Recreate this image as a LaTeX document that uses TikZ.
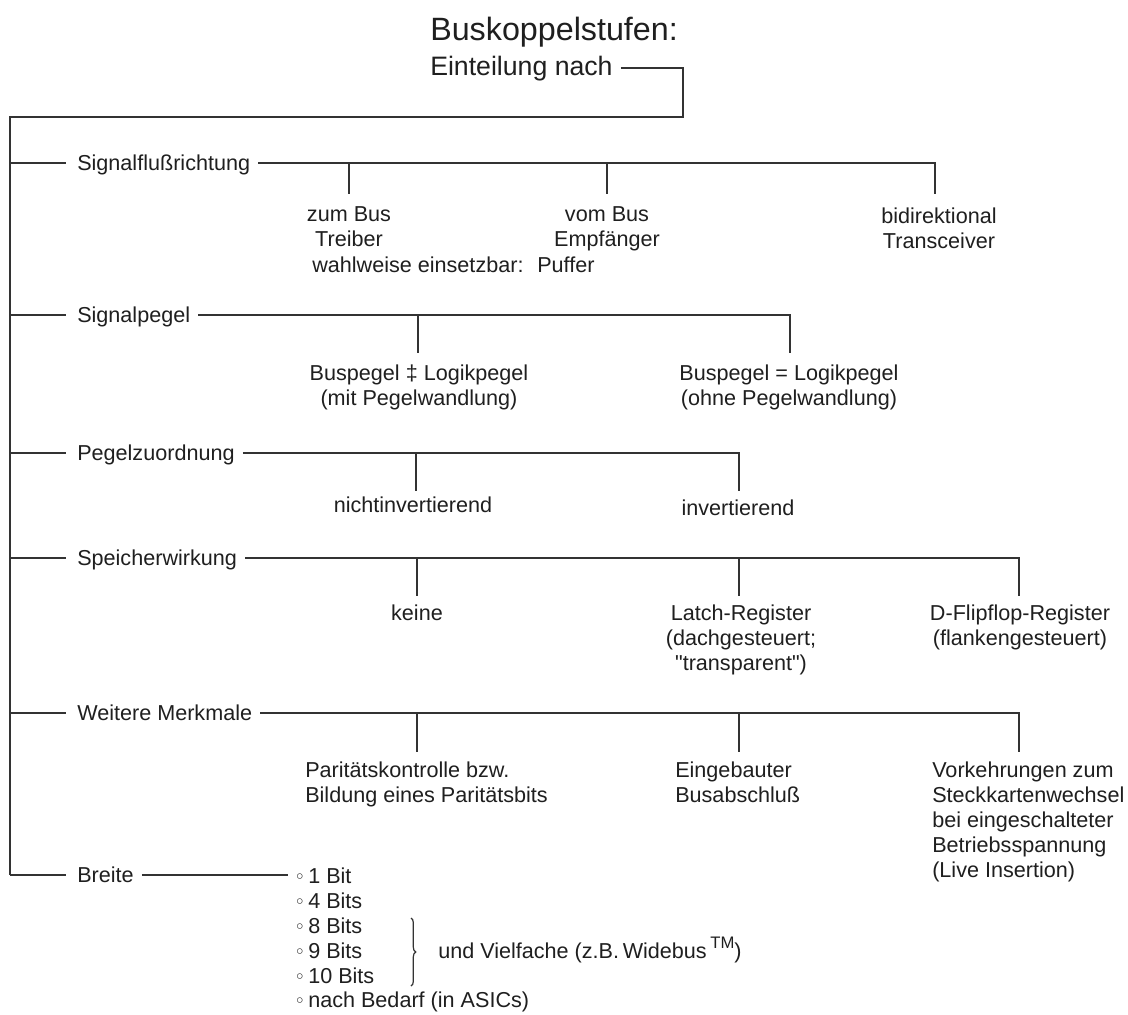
\documentclass[tikz,border=0pt]{standalone}
\usepackage{fontspec}
\setmainfont{Liberation Sans}[Ligatures=TeXOff]
\newfontfamily\symbolfont{DejaVu Sans}
\usetikzlibrary{decorations.pathreplacing}

\definecolor{ink}{gray}{0.12}
\definecolor{wirec}{gray}{0.2}
\newcommand\bodyfont{\fontsize{16.2}{18.75}\selectfont}
\newcommand\subfont{\fontsize{20}{24}\selectfont}
\newcommand\titlefont{\fontsize{24.2}{29}\selectfont}
\newcommand\bull{\makebox[10.5pt][l]{\symbolfont\fontsize{14}{14}\selectfont ◦}}

\begin{document}
\begin{tikzpicture}[x=0.75pt,y=-0.75pt,
  wire/.style={draw=wirec,line width=1.1pt},
  head/.style={font=\bodyfont,text=ink,inner sep=0pt,anchor=base west},
  leaf/.style={font=\bodyfont,text=ink,inner sep=0pt,anchor=base,align=center},
  leafl/.style={font=\bodyfont,text=ink,inner sep=0pt,anchor=base west,align=left}]
% multi-line nodes: the base anchor sits on the baseline of the last line,
% lines are 25 units apart

\useasboundingbox[fill=white] (0,0) rectangle (1128,1014);

% heading
\node[font=\titlefont,text=ink,inner sep=0pt,anchor=base west] (ttl) at (430,40) {Buskoppelstufen:};
\node[font=\subfont,text=ink,inner sep=0pt,anchor=base west] (ein) at (430,75) {Einteilung nach};

% trunk
\coordinate (t1) at (683,68);
\coordinate (t2) at (683,117);
\coordinate (t0) at (10,117);
\coordinate (r6) at (10,875);
\draw[wire] ([xshift=6pt]ein.east |- t1) -- (t1) -- (t2) -- (t0) -- (r6);

% row junctions on the trunk
\coordinate (r1) at (10,163);
\coordinate (r2) at (10,315);
\coordinate (r3) at (10,453);
\coordinate (r4) at (10,558);
\coordinate (r5) at (10,713);

% category labels
\node[head] (c1) at (77,170) {Signalflußrichtung};
\node[head] (c2) at (77,322) {Signalpegel};
\node[head] (c3) at (77,460) {Pegelzuordnung};
\node[head] (c4) at (77,565) {Speicherwirkung};
\node[head] (c5) at (77,720) {Weitere Merkmale};
\node[head] (c6) at (77,882) {Breite};

\foreach \i in {1,...,6}{
  \draw[wire] (r\i) -- ([xshift=-8.25pt]c\i.west |- r\i);
}

% --- Signalflussrichtung
\coordinate (b11) at (349,194);
\coordinate (b12) at (607,194);
\coordinate (b13) at (935,194);
\draw[wire] ([xshift=6pt]c1.east |- r1) -- (b13 |- r1) -- (b13);
\draw[wire] (b11 |- r1) -- (b11);
\draw[wire] (b12 |- r1) -- (b12);
\node[leaf] (k11) at (349,246) {zum Bus\\Treiber};
\node[leaf] (k12) at (607,246) {vom Bus\\Empfänger};
\node[leaf] (k13) at (939,248) {bidirektional\\Transceiver};
\node[head] (k1w) at (312,272) {wahlweise einsetzbar:};
\node[head] (k1p) at (537,272) {Puffer};

% --- Signalpegel
\coordinate (b21) at (418,353);
\coordinate (b22) at (790,353);
\draw[wire] ([xshift=6pt]c2.east |- r2) -- (b22 |- r2) -- (b22);
\draw[wire] (b21 |- r2) -- (b21);
\node[leaf] (k21) at (419,405) {Buspegel ‡ Logikpegel\\(mit Pegelwandlung)};
\node[leaf] (k22) at (789,405) {Buspegel = Logikpegel\\(ohne Pegelwandlung)};

% --- Pegelzuordnung
\coordinate (b31) at (416,491);
\coordinate (b32) at (739,491);
\draw[wire] ([xshift=6pt]c3.east |- r3) -- (b32 |- r3) -- (b32);
\draw[wire] (b31 |- r3) -- (b31);
\node[leaf] (k31) at (413,512) {nichtinvertierend};
\node[leaf] (k32) at (738,515) {invertierend};

% --- Speicherwirkung
\coordinate (b41) at (417,596);
\coordinate (b42) at (739,596);
\coordinate (b43) at (1019,596);
\draw[wire] ([xshift=6pt]c4.east |- r4) -- (b43 |- r4) -- (b43);
\draw[wire] (b41 |- r4) -- (b41);
\draw[wire] (b42 |- r4) -- (b42);
\node[leaf] (k41) at (417,620) {keine};
\node[leaf] (k42) at (741,670) {Latch-Register\\(dachgesteuert;\\"transparent")};
\node[leaf] (k43) at (1020,645) {D-Flipflop-Register\\(flankengesteuert)};

% --- Weitere Merkmale
\coordinate (b51) at (417,752);
\coordinate (b52) at (739,752);
\coordinate (b53) at (1019,752);
\draw[wire] ([xshift=6pt]c5.east |- r5) -- (b53 |- r5) -- (b53);
\draw[wire] (b51 |- r5) -- (b51);
\draw[wire] (b52 |- r5) -- (b52);
\node[leafl] (k51) at (305,802) {Paritätskontrolle bzw.\\Bildung eines Paritätsbits};
\node[leafl] (k52) at (675,802) {Eingebauter\\Busabschluß};
\node[leafl] (k53) at (932,877) {Vorkehrungen zum\\Steckkartenwechsel\\bei eingeschalteter\\Betriebsspannung\\(Live Insertion)};

% --- Breite
\coordinate (e6) at (288,875);
\draw[wire] ([xshift=6pt]c6.east |- r6) -- (e6);
\node[head] (w1) at (294,883) {\bull 1 Bit};
\node[head] (w2) at (294,908) {\bull 4 Bits};
\node[head] (w3) at (294,933) {\bull 8 Bits};
\node[head] (w4) at (294,958) {\bull 9 Bits};
\node[head] (w5) at (294,983) {\bull 10 Bits};
\node[head] (w6) at (294,1007) {\bull nach Bedarf (in ASICs)};
\coordinate (bt) at (411,918);
\coordinate (bb) at (411,986);
\draw[wire,line width=0.9pt,decorate,decoration={brace,amplitude=3.5pt}] (bt) -- (bb);
\node[head] (wv) at (438,958) {und Vielfache (z.B.\,Widebus\,\raisebox{0.45em}{\fontsize{12.5}{12.5}\selectfont TM})};

\end{tikzpicture}
\end{document}
